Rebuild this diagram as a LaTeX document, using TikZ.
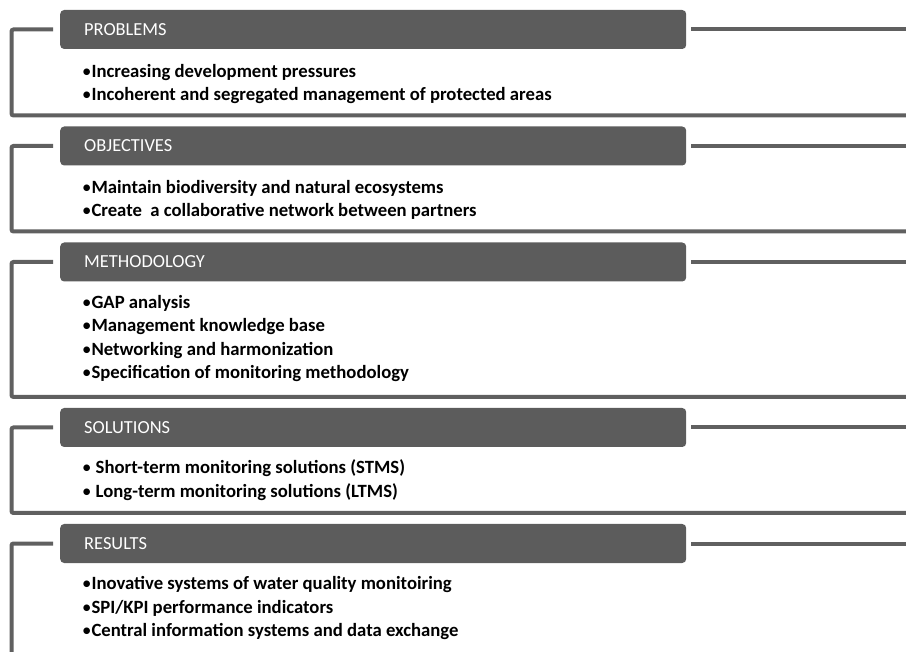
\documentclass[tikz,border=0pt]{standalone}
\usepackage{fontspec}
\setmainfont{Carlito}
\usetikzlibrary{positioning,calc}
\definecolor{boxgray}{RGB}{92,92,92}
\definecolor{linegray}{RGB}{96,96,96}
\newcommand{\headfont}{\fontsize{18.4}{21}\selectfont}
\newcommand{\listfont}{\fontsize{18.7}{22}\selectfont\bfseries}
\newcommand{\bul}{{\mdseries •}}

\begin{document}
\begin{tikzpicture}[x=1pt,y=-1pt,
    head/.style={fill=boxgray, rounded corners=4pt, anchor=west, text=white,
        font=\headfont, minimum height=39pt, text width=578pt, inner xsep=24pt,
        inner ysep=0pt, align=left, text height=12pt, text depth=0pt},
    entry/.style={anchor=west, inner sep=0pt, font=\listfont,
        text height=12pt, text depth=0pt},
    bar/.style={draw=linegray, line width=4pt, rounded corners=2pt}]
\useasboundingbox (0,0) rectangle (906,652);
\coordinate (R) at (906,0);
\coordinate (L) at (11.5,0);

% problems
\node[head] (prob) at (60,29.5) {PROBLEMS};
\node[entry] (prob1) at (82,71.5) {\bul Increasing development pressures};
\node[entry] (prob2) at (82,95) {\bul Incoherent and segregated management of protected areas};
\coordinate (probend) at (0,115.5);

% objectives
\node[head] (obj) at (60,146) {OBJECTIVES};
\node[entry] (obj1) at (82,187.5) {\bul Maintain biodiversity and natural ecosystems};
\node[entry] (obj2) at (82,210.5) {\bul Create~ a collaborative network between partners};
\coordinate (objend) at (0,231.5);

% methodology
\node[head] (meth) at (60,262) {METHODOLOGY};
\node[entry] (meth1) at (82,302.5) {\bul GAP analysis};
\node[entry] (meth2) at (82,326) {\bul Management knowledge base};
\node[entry] (meth3) at (82,349.5) {\bul Networking and harmonization};
\node[entry] (meth4) at (82,373) {\bul Specification of monitoring methodology};
\coordinate (methend) at (0,397);

% solutions
\node[head] (sol) at (60,427.5) {SOLUTIONS};
\node[entry] (sol1) at (82,467.5) {\bul{} Short-term monitoring solutions (STMS)};
\node[entry] (sol2) at (82,491) {\bul{} Long-term monitoring solutions (LTMS)};
\coordinate (solend) at (0,513);

% results
\node[head] (res) at (60,543.5) {RESULTS};
\node[entry] (res1) at (82,583.5) {\bul Inovative systems of water quality monitoiring};
\node[entry] (res2) at (82,607) {\bul SPI/KPI performance indicators};
\node[entry] (res3) at (82,630.5) {\bul Central information systems and data exchange};
\coordinate (resend) at (0,652);

% brackets
\foreach \s in {prob,obj,meth,sol} {
    \draw[bar] ([xshift=-7pt]\s.west) -| (L |- \s end) -- (R |- \s end);
    \draw[bar] ([xshift=5pt]\s.east) -- (R |- \s.east);
}
\draw[bar] ([xshift=-7pt]res.west) -| ([yshift=-4pt]L |- resend);
\draw[bar] ([xshift=5pt]res.east) -- (R |- res.east);
\end{tikzpicture}
\end{document}
